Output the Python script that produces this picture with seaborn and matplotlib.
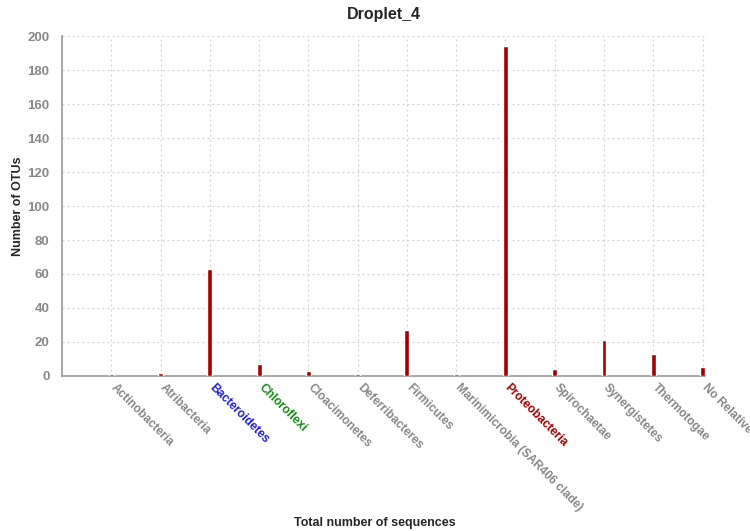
import matplotlib
matplotlib.use("Agg")
import matplotlib.pyplot as plt
import matplotlib.transforms as mtransforms
import seaborn as sns
import pandas as pd

# Datos
phyla = ["Actinobacteria", "Atribacteria", "Bacteroidetes", "Chloroflexi",
         "Cloacimonetes", "Deferribacteres", "Firmicutes",
         "Marinimicrobia (SAR406 clade)", "Proteobacteria", "Spirochaetae",
         "Synergistetes", "Thermotogae", "No Relative"]
otus = [1, 2, 63, 7, 3, 1, 27, 1, 194, 4, 21, 13, 5]
label_colors = ["#888888", "#888888", "#1f1fe0", "#138a13", "#888888",
                "#888888", "#888888", "#888888", "#a50000", "#888888",
                "#888888", "#888888", "#888888"]
y_ticks = list(range(0, 201, 20))

df = pd.DataFrame({"Phylum": phyla, "OTUs": otus})

sns.set_style("white")
plt.rcParams["font.family"] = ["Liberation Sans", "DejaVu Sans"]

fig = plt.figure(figsize=(7.5, 5.31), dpi=100)
ax = fig.add_axes([0.0827, 0.292, 0.8573, 0.640])

sns.barplot(data=df, x="Phylum", y="OTUs", color="#a50000", width=0.1,
            saturation=1, ax=ax, zorder=3)

ax.set_xlim(-1, 12.05)
ax.set_ylim(0, 200)
ax.set_yticks(y_ticks)
ax.grid(True, color="#d0d0d0", linestyle=(0, (1.5, 2.5)), linewidth=0.9, zorder=0)

for s in ["top", "right"]:
    ax.spines[s].set_visible(False)
for s in ["left", "bottom"]:
    ax.spines[s].set_color("#999999")
    ax.spines[s].set_linewidth(1.2)

ax.tick_params(axis="y", colors="#999999", length=4, width=1.2, labelsize=9.5, pad=5)
ax.tick_params(axis="x", length=0, pad=4)
for lbl in ax.get_yticklabels():
    lbl.set_color("#888888")
    lbl.set_fontweight("bold")

ax.set_xticks(range(len(phyla)))
ax.set_xticklabels(phyla, rotation=-45, ha="left", va="top",
                   rotation_mode="anchor", fontsize=8.6, fontweight="bold")
# desplazar un poco las etiquetas a la derecha
shift = mtransforms.ScaledTranslation(4 / 72, 0, fig.dpi_scale_trans)
for lbl, c in zip(ax.get_xticklabels(), label_colors):
    lbl.set_color(c)
    lbl.set_transform(lbl.get_transform() + shift)

ax.set_xlabel("")
ax.set_ylabel("Number of OTUs", fontsize=9, fontweight="bold", labelpad=2)
ax.set_title("Droplet_4", fontsize=11.5, fontweight="bold", pad=12)
fig.text(0.5, 0.003, "Total number of sequences", ha="center", va="bottom",
         fontsize=9, fontweight="bold")

fig.savefig("out.png", dpi=100)
